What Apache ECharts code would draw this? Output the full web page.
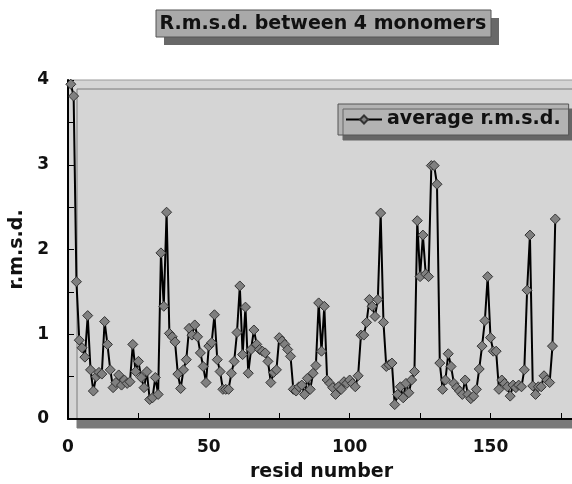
<!DOCTYPE html>
<html>
<head>
<meta charset="utf-8">
<script src="https://cdn.jsdelivr.net/npm/echarts@6/dist/echarts.min.js"></script>
<style>
html,body{margin:0;padding:0;background:#fff;}
#chart{width:572px;height:484px;}
</style>
</head>
<body>
<div id="chart"></div>
<script>
const titleText = "R.m.s.d. between 4 monomers";
const seriesName = "average r.m.s.d.";
const xAxisName = "resid number";
const yAxisName = "r.m.s.d.";
const xTickLabels = [0, 50, 100, 150];
const yTickLabels = [0, 1, 2, 3, 4];

const residues = [];
for (let i = 1; i <= 173; i++) residues.push(i);

const rmsd = [
  3.95, 3.81, 1.62, 0.93, 0.84, 0.73, 1.22, 0.58, 0.33, 0.50,
  0.55, 0.53, 1.15, 0.88, 0.58, 0.37, 0.43, 0.52, 0.40, 0.46,
  0.42, 0.44, 0.88, 0.56, 0.68, 0.49, 0.37, 0.56, 0.23, 0.25,
  0.49, 0.29, 1.96, 1.33, 2.44, 1.01, 0.97, 0.91, 0.53, 0.36,
  0.58, 0.70, 1.07, 0.99, 1.11, 0.97, 0.78, 0.62, 0.43, 0.86,
  0.90, 1.23, 0.70, 0.56, 0.35, 0.35, 0.35, 0.54, 0.68, 1.02,
  1.57, 0.76, 1.32, 0.54, 0.82, 1.05, 0.88, 0.82, 0.80, 0.78,
  0.68, 0.43, 0.55, 0.58, 0.96, 0.92, 0.88, 0.82, 0.74, 0.35,
  0.33, 0.38, 0.40, 0.29, 0.48, 0.35, 0.54, 0.63, 1.37, 0.80,
  1.33, 0.46, 0.42, 0.37, 0.29, 0.38, 0.35, 0.44, 0.42, 0.46,
  0.42, 0.38, 0.51, 0.99, 0.99, 1.14, 1.41, 1.33, 1.21, 1.41,
  2.43, 1.14, 0.62, 0.64, 0.66, 0.17, 0.29, 0.38, 0.25, 0.42,
  0.31, 0.46, 0.56, 2.34, 1.68, 2.17, 1.71, 1.68, 2.99, 2.99,
  2.77, 0.66, 0.35, 0.46, 0.77, 0.62, 0.42, 0.37, 0.33, 0.29,
  0.46, 0.29, 0.24, 0.27, 0.35, 0.59, 0.86, 1.16, 1.68, 0.96,
  0.80, 0.80, 0.35, 0.46, 0.42, 0.38, 0.27, 0.40, 0.37, 0.40,
  0.38, 0.58, 1.52, 2.17, 0.39, 0.29, 0.38, 0.38, 0.51, 0.46,
  0.43, 0.86, 2.36
];

const FONT = "'DejaVu Sans', sans-serif";
const chart = echarts.init(document.getElementById('chart'), null, {renderer: 'canvas'});

const option = {
  backgroundColor: '#ffffff',
  animation: false,
  graphic: [
    {type: 'rect', shape: {x: 164, y: 18, width: 335, height: 27}, style: {fill: '#686868'}, z: 10},
    {type: 'rect', shape: {x: 156, y: 10, width: 335, height: 27}, style: {fill: '#a9a9a9', stroke: '#555', lineWidth: 1}, z: 11},
    {type: 'text', x: 323, y: 24, z: 12,
     style: {text: titleText, fill: '#111', font: 'bold 19px ' + FONT, textAlign: 'center', textVerticalAlign: 'middle'}}
  ],
  grid: {
    left: 68, top: 80, width: 507, height: 339,
    outerBoundsMode: 'none',
    containLabel: false,
    show: true,
    backgroundColor: '#d5d5d5',
    borderColor: '#9a9a9a',
    borderWidth: 1,
    shadowColor: '#7a7a7a',
    shadowOffsetX: 9,
    shadowOffsetY: 9,
    shadowBlur: 0
  },
  legend: {
    left: 338, top: 104,
    orient: 'horizontal',
    backgroundColor: '#b3b3b3',
    borderColor: '#555',
    borderWidth: 1,
    padding: [6, 8, 6, 7],
    shadowColor: '#666',
    shadowOffsetX: 5,
    shadowOffsetY: 5,
    shadowBlur: 0,
    itemWidth: 36,
    itemHeight: 10,
    itemGap: 5,
    textStyle: {fontFamily: FONT, fontWeight: 'bold', fontSize: 19, color: '#111', padding: [0, 0, 0, 0]},
    data: [seriesName]
  },
  xAxis: {
    type: 'value', min: 0, max: 180, interval: 25,
    name: xAxisName, nameLocation: 'middle', nameGap: 44,
    nameTextStyle: {fontFamily: FONT, fontWeight: 'bold', fontSize: 19, color: '#111'},
    axisLine: {show: true, onZero: false, lineStyle: {color: '#000', width: 2}},
    axisTick: {show: true, inside: true, length: 6, lineStyle: {color: '#000', width: 1}},
    axisLabel: {
      fontFamily: FONT, fontWeight: 'bold', fontSize: 17, color: '#111', margin: 20,
      formatter: v => (xTickLabels.indexOf(v) >= 0 ? String(v) : '')
    },
    splitLine: {show: false}
  },
  yAxis: {
    type: 'value', min: 0, max: 4, interval: 0.5,
    name: yAxisName, nameLocation: 'middle', nameGap: 32, nameRotate: 90,
    nameTextStyle: {fontFamily: FONT, fontWeight: 'bold', fontSize: 19, color: '#111'},
    axisLine: {show: true, onZero: false, lineStyle: {color: '#000', width: 2}},
    axisTick: {show: true, inside: true, length: 6, lineStyle: {color: '#000', width: 1}},
    axisLabel: {
      fontFamily: FONT, fontWeight: 'bold', fontSize: 17, color: '#111', margin: 19,
      formatter: v => (yTickLabels.indexOf(v) >= 0 ? String(v) : '')
    },
    splitLine: {show: false}
  },
  series: [{
    name: seriesName,
    type: 'line',
    data: residues.map((r, i) => [r, rmsd[i]]),
    symbol: 'diamond',
    symbolSize: 10,
    showAllSymbol: true,
    lineStyle: {color: '#000', width: 2},
    itemStyle: {color: '#808080', borderColor: '#333', borderWidth: 1},
    emphasis: {disabled: true}
  }]
};
chart.setOption(option);
</script>
</body>
</html>
